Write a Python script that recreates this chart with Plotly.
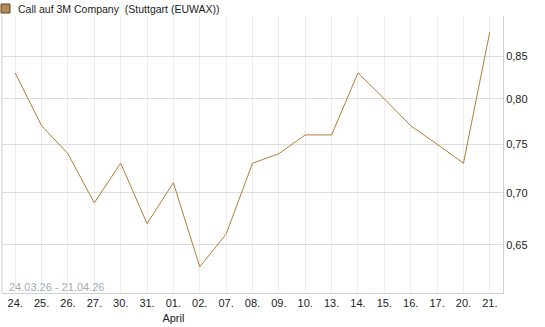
import math
import plotly.graph_objects as go

categories = ["24.", "25.", "26.", "27.", "30.", "31.", "01.", "02.", "07.", "08.",
              "09.", "10.", "13.", "14.", "15.", "16.", "17.", "20.", "21."]
values = [0.83, 0.77, 0.74, 0.69, 0.73, 0.67, 0.71, 0.63, 0.66, 0.73,
          0.74, 0.76, 0.76, 0.83, 0.80, 0.77, 0.75, 0.73, 0.88]
y_ticks = [0.65, 0.70, 0.75, 0.80, 0.85]
y_ticklabels = ["0,65", "0,70", "0,75", "0,80", "0,85"]
title_text = "Call auf 3M Company\u00a0 (Stuttgart (EUWAX))"
range_text = "24.03.26 - 21.04.26"
month_label = "April"

LINE = "#b37d34"
FONT = "Liberation Sans, Arial, sans-serif"

xs = list(range(len(categories)))
ticktext = [c + ("<br>" + month_label if c == "01." else "") for c in categories]

fig = go.Figure()
fig.add_trace(go.Scatter(x=xs, y=values, mode="lines",
                         line=dict(color=LINE, width=1),
                         hoverinfo="skip", showlegend=False))

fig.update_layout(
    width=545, height=327,
    margin=dict(l=2, r=42, t=16, b=34),
    paper_bgcolor="white", plot_bgcolor="white",
    font=dict(family=FONT, size=11, color="#222"),
    xaxis=dict(range=[-0.5, len(categories) - 0.5], tickmode="array",
               tickvals=xs, ticktext=ticktext, showgrid=True,
               gridcolor="#ececec", gridwidth=1, zeroline=False,
               showline=True, linecolor="#d0d0d0", linewidth=1, mirror=False,
               ticks="", tickfont=dict(size=11, color="#222")),
    yaxis=dict(type="log", range=[math.log10(0.607), math.log10(0.90)],
               side="right", tickmode="array", tickvals=y_ticks,
               ticktext=y_ticklabels, showgrid=True, gridcolor="#dcdcdc",
               gridwidth=1, zeroline=False, showline=True, linecolor="#d0d0d0",
               linewidth=1, ticks="", tickfont=dict(size=11, color="#222")),
    shapes=[
        dict(type="line", xref="paper", yref="paper", x0=0, x1=0, y0=0, y1=1,
             line=dict(color="#d0d0d0", width=1)),
        dict(type="rect", xref="paper", yref="paper",
             x0=-1 / 501, x1=8 / 501, y0=1 + 3 / 277, y1=1 + 12 / 277,
             fillcolor="#b58a50", line=dict(color="#5a4630", width=1)),
    ],
    annotations=[
        dict(text=title_text, xref="paper", yref="paper", x=14 / 501,
             y=1 + 7.5 / 277, xanchor="left", yanchor="middle", showarrow=False,
             font=dict(size=10.5, color="#222", family=FONT)),
        dict(text=range_text, xref="paper", yref="paper", x=5 / 501,
             y=6.5 / 277, xanchor="left", yanchor="middle", showarrow=False,
             font=dict(size=11, color="#a3aabb", family=FONT)),
    ],
)

fig.write_html("out.html")
